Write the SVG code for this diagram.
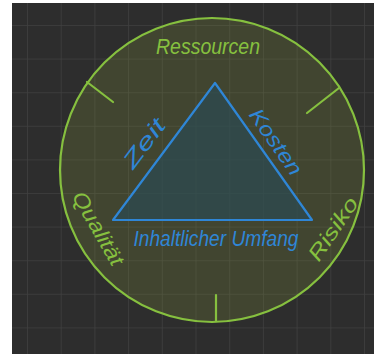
<svg xmlns="http://www.w3.org/2000/svg" width="374" height="354" viewBox="0 0 374 354">
<defs>
<pattern id="grid" x="27" y="25" width="33.7" height="33.6" patternUnits="userSpaceOnUse">
<path d="M0 0V33.6M0 0H33.7" fill="none" stroke="#404040" stroke-width="1.5"/>
</pattern>
</defs>
<style>
.g{fill:none;stroke:#86c03f;stroke-width:2.2;stroke-linecap:round}
.gt{fill:#86c03f;font-family:"Liberation Sans",sans-serif;font-style:italic}
.bt{fill:#2f86d6;font-family:"Liberation Sans",sans-serif;font-style:italic}
</style>
<rect width="374" height="354" fill="#ffffff"/>
<rect x="12" y="3" width="362" height="351" fill="#2d2d2d"/>
<rect x="12" y="3" width="362" height="351" fill="url(#grid)"/>
<g id="circle">
<circle cx="212" cy="170" r="152" fill="#8a9a3a" fill-opacity="0.22" stroke="#86c03f" stroke-width="2.2"/>
</g>
<g id="ticks">
<line class="g" x1="87" y1="82" x2="113" y2="102"/>
<line class="g" x1="339" y1="88" x2="307" y2="113"/>
<line class="g" x1="216" y1="295" x2="216" y2="321"/>
</g>
<g id="triangle">
<polygon points="215,83 113,220 312,220" fill="#2b4a52" fill-opacity="0.7" stroke="#2f86d6" stroke-width="2.2" stroke-linejoin="round"/>
</g>
<g id="label-ressourcen"><text class="gt" x="208" y="54" font-size="22" text-anchor="middle" textLength="104" lengthAdjust="spacingAndGlyphs">Ressourcen</text></g>
<g id="label-zeit"><text class="bt" font-size="22" text-anchor="middle" textLength="56" lengthAdjust="spacingAndGlyphs" transform="translate(150,148) rotate(-53)">Zeit</text></g>
<g id="label-kosten"><text class="bt" font-size="21" text-anchor="middle" textLength="76" lengthAdjust="spacingAndGlyphs" transform="translate(270,146) rotate(55)">Kosten</text></g>
<g id="label-umfang"><text class="bt" x="216" y="246" font-size="22" text-anchor="middle" textLength="165" lengthAdjust="spacingAndGlyphs">Inhaltlicher Umfang</text></g>
<g id="label-qualitaet"><text class="gt" font-size="21" text-anchor="middle" textLength="82" lengthAdjust="spacingAndGlyphs" transform="translate(92,232) rotate(60)">Qualität</text></g>
<g id="label-risiko"><text class="gt" font-size="21" text-anchor="middle" textLength="72" lengthAdjust="spacingAndGlyphs" transform="translate(339,233) rotate(-56)">Risiko</text></g>
</svg>
